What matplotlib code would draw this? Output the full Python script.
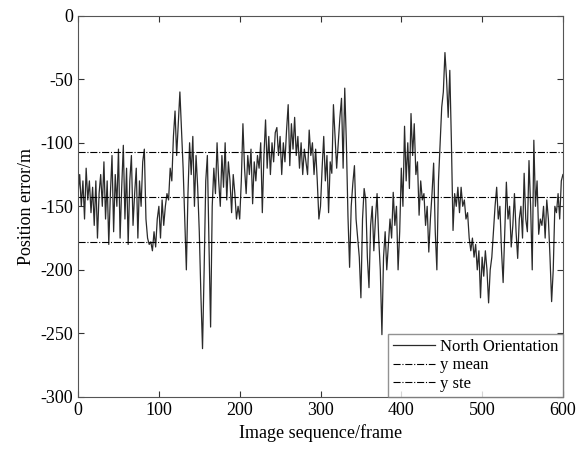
import numpy as np
import matplotlib.pyplot as plt

plt.rcParams['font.family'] = ['Liberation Serif', 'DejaVu Serif']
plt.rcParams['axes.unicode_minus'] = False

# frame index (step 2) and north position error
frames = np.arange(0, 601, 2)
north = [
    -140, -125, -150, -130, -160, -120, -145, -130, -155, -135,
    -165, -130, -175, -140, -125, -150, -115, -160, -130, -180,
    -140, -110, -170, -125, -150, -105, -175, -135, -102, -160,
    -120, -180, -130, -110, -165, -140, -120, -175, -130, -150,
    -115, -105, -160, -175, -180, -178, -185, -170, -182, -160,
    -150, -175, -145, -165, -150, -140, -145, -120, -130, -95,
    -75, -110, -85, -60, -90, -120, -160, -200, -140, -100,
    -125, -95, -150, -110, -135, -170, -220, -262, -200, -130,
    -110, -180, -245, -150, -120, -140, -100, -130, -150, -110,
    -135, -100, -145, -115, -130, -155, -125, -140, -160, -150,
    -160, -130, -85, -120, -140, -110, -125, -105, -148, -115,
    -130, -110, -120, -100, -155, -110, -82, -120, -95, -125,
    -100, -115, -92, -88, -110, -95, -125, -100, -115, -90,
    -70, -118, -85, -105, -80, -110, -95, -120, -100, -125,
    -105, -115, -125, -90, -110, -100, -125, -105, -130, -160,
    -150, -120, -95, -130, -110, -155, -115, -124, -70, -95,
    -120, -100, -80, -65, -120, -57, -100, -158, -198, -150,
    -132, -118, -160, -175, -190, -222, -160, -136, -145, -190,
    -214, -165, -150, -185, -160, -140, -175, -200, -251, -190,
    -170, -200, -180, -160, -175, -139, -165, -150, -200, -170,
    -120, -150, -87, -130, -100, -136, -77, -110, -85, -125,
    -115, -157, -130, -145, -140, -165, -150, -186, -160, -140,
    -116, -170, -200, -130, -100, -72, -60, -29, -50, -80,
    -43, -100, -169, -140, -150, -135, -155, -135, -150, -145,
    -160, -155, -175, -185, -175, -190, -180, -200, -185, -222,
    -190, -205, -185, -200, -226, -200, -190, -170, -150, -135,
    -160, -150, -185, -210, -170, -131, -160, -150, -182, -165,
    -140, -170, -191, -160, -150, -175, -124, -160, -170, -114,
    -150, -200, -98, -150, -130, -172, -160, -165, -150, -175,
    -145, -160, -190, -225, -200, -150, -155, -140, -160, -130,
    -125,
]
y_mean = -143
y_ste = [-107, -178]

fig = plt.figure(figsize=(5.87, 4.49), dpi=100)
ax = fig.add_axes([0.133, 0.116, 0.826, 0.849])

ax.plot(frames, north, color='#2a2a2a', lw=0.9, label='North Orientation')
ax.axhline(y_mean, color='k', lw=0.8, ls='-.', label='y mean')
ax.axhline(y_ste[0], color='k', lw=0.8, ls='-.', label='y ste')
ax.axhline(y_ste[1], color='k', lw=0.8, ls='-.')

ax.set_xlim(0, 600)
ax.set_ylim(-300, 0)
ax.set_xticks(range(0, 601, 100))
ax.set_yticks(range(-300, 1, 50))
ax.tick_params(direction='in', top=True, right=True, length=4,
               labelsize=13, colors='#333333', labelcolor='k')
for s in ax.spines.values():
    s.set_color('#555555')

ax.set_xlabel('Image sequence/frame', fontsize=13)
ax.set_ylabel('Position error/m', fontsize=13)

leg = ax.legend(loc='lower right', fontsize=12, frameon=True, fancybox=False,
                borderaxespad=0, handlelength=2.5, borderpad=0.3,
                labelspacing=0.15, handletextpad=0.3)
leg.get_frame().set_edgecolor('#777777')
leg.get_frame().set_linewidth(1.0)

fig.savefig('out.png', dpi=100)
